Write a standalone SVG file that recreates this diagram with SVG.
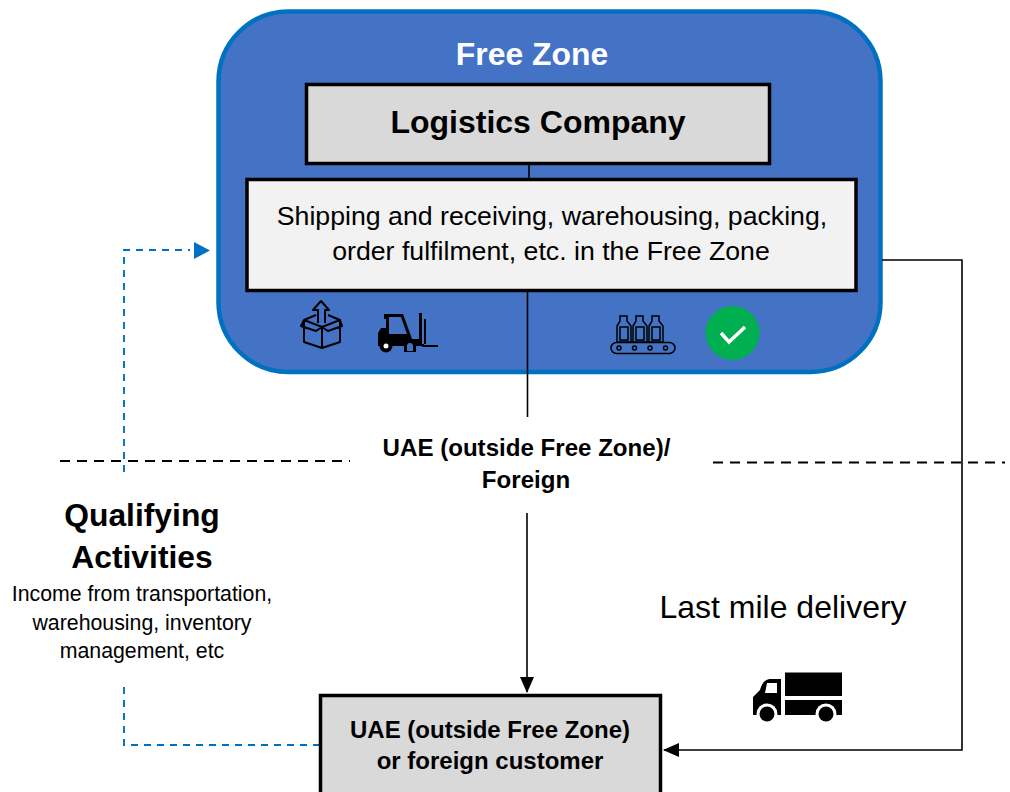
<svg xmlns="http://www.w3.org/2000/svg" width="1010" height="792" viewBox="0 0 1010 792">
<style>
text{font-family:"Liberation Sans",Arial,sans-serif;text-anchor:middle;fill:#000}
.b{font-weight:bold}
.box{stroke:#000;stroke-width:3.5}
.gr{fill:#d9d9d9}
.line{fill:none;stroke:#000;stroke-width:1.6}
.dash{fill:none;stroke:#000;stroke-width:2.2;stroke-dasharray:10 7}
.blue{fill:none;stroke:#0070c0;stroke-width:1.9;stroke-dasharray:7 6}
.ic{fill:none;stroke:#000;stroke-width:2;stroke-linejoin:round}
.ict{fill:none;stroke:#000;stroke-width:1.5}
</style>
<defs>
<marker id="ah" markerWidth="16" markerHeight="14" refX="15" refY="7" orient="auto" markerUnits="userSpaceOnUse"><path d="M0 0L16 7L0 14Z" fill="#000"/></marker>
</defs>
<g id="free-zone">
<rect x="218.500" y="11.500" width="662" height="360.500" rx="70" fill="#4472c4" stroke="#0070c0" stroke-width="4.500"/>
<text x="532" y="65" font-size="31.900" class="b" style="fill:#fff">Free Zone</text>
</g>
<g id="connectors">
<path class="line" d="M529 165V179"/>
<path class="line" d="M527.500 291V417"/>
<path class="line" d="M527 513V692" marker-end="url(#ah)"/>
<path class="line" d="M882 260H962V750H664" marker-end="url(#ah)"/>
<path class="dash" d="M60 461H350"/>
<path class="dash" d="M713 462.500H1005"/>
<path class="blue" d="M124 472V250H190"/>
<path d="M194 242L210 250.500L194 259Z" fill="#0070c0"/>
<path class="blue" d="M124 687V745H320"/>
</g>
<g id="logistics-company">
<rect class="box gr" x="306.500" y="84.500" width="463" height="79"/>
<text x="538" y="133" font-size="32" class="b">Logistics Company</text>
</g>
<g id="activities">
<rect class="box" fill="#f2f2f2" x="247" y="179.500" width="609" height="111"/>
<text x="552" y="225" font-size="26.700">Shipping and receiving, warehousing, packing,</text>
<text x="551" y="259.500" font-size="26.700">order fulfilment, etc. in the Free Zone</text>
</g>
<g id="icon-box">
<path class="ic" d="M322 327L304 320V342L322 348L340 342V320L322 327ZM322 327V348M304 320L301 326L316 331L322 327L328 331L342 326L340 320M304 320L316 315M340 320L328 315"/>
<path class="ic" d="M318 323V310H313L321 301L329 310H325V323"/>
</g>
<g id="icon-forklift">
<path d="M384 314H403L412 339H419V313H422V346H378V333L381 328H386V319L384 319Z" fill="#000"/>
<path d="M389 317H401L407 334H389Z" fill="#4472c4"/>
<path d="M422 344H426V319H424V345H438V347H422Z" fill="#000"/>
<circle cx="386" cy="346" r="6.500" fill="#000"/><circle cx="386" cy="346" r="2.500" fill="#fff"/>
<path d="M404 352V345A6 6 0 0 1 416 345V352" fill="#000"/>
<path d="M407 351V346A3 3 0 0 1 413 346V351Z" fill="#4472c4"/>
</g>
<g id="icon-bottles">
<rect class="ict" x="611" y="342.500" width="64" height="11" rx="5.500"/>
<circle class="ict" cx="619" cy="348" r="2"/><circle class="ict" cx="634.500" cy="348" r="2"/><circle class="ict" cx="650" cy="348" r="2"/><circle class="ict" cx="665.500" cy="348" r="2"/>
<path class="ict" d="M620 316H627V321L631 326V342H617V326L620 321Z"/><rect class="ict" x="620" y="327" width="8" height="13"/>
<path class="ict" d="M636 316H643V321L647 326V342H633V326L636 321Z"/><rect class="ict" x="636" y="327" width="8" height="13"/>
<path class="ict" d="M652 316H659V321L663 326V342H649V326L652 321Z"/><rect class="ict" x="652" y="327" width="8" height="13"/>
</g>
<g id="icon-check">
<circle cx="732.500" cy="333" r="27" fill="#00b050"/>
<path d="M721 333L729 342L745 327" fill="none" stroke="#fff" stroke-width="3.500"/>
</g>
<g id="region-label">
<text x="526.500" y="456" font-size="24.100" class="b">UAE (outside Free Zone)/</text>
<text x="526" y="488" font-size="24.100" class="b">Foreign</text>
</g>
<g id="qualifying">
<text x="142" y="526" font-size="31.800" class="b">Qualifying</text>
<text x="142" y="568" font-size="31.800" class="b">Activities</text>
<text x="142" y="601" font-size="21.300">Income from transportation,</text>
<text x="142" y="630" font-size="21.300">warehousing, inventory</text>
<text x="142" y="658" font-size="21.300">management, etc</text>
</g>
<g id="last-mile">
<text x="783" y="618" font-size="32">Last mile delivery</text>
<path d="M785 672.500H842V696H785ZM785 700H842V715H785Z" fill="#000"/>
<path d="M781 679V715H753V697L760 690C762 684 764 679 771 679Z" fill="#000"/>
<path d="M767 683H777V693H765Z" fill="#fff"/>
<circle cx="767" cy="714" r="10.500" fill="#fff"/><circle cx="767" cy="714" r="7.500" fill="#000"/>
<circle cx="826" cy="714" r="10.500" fill="#fff"/><circle cx="826" cy="714" r="7.500" fill="#000"/>
</g>
<g id="customer">
<rect class="box gr" x="320.500" y="695.500" width="340" height="110"/>
<text x="490" y="738" font-size="24" class="b">UAE (outside Free Zone)</text>
<text x="490" y="769" font-size="24" class="b">or foreign customer</text>
</g>
</svg>
